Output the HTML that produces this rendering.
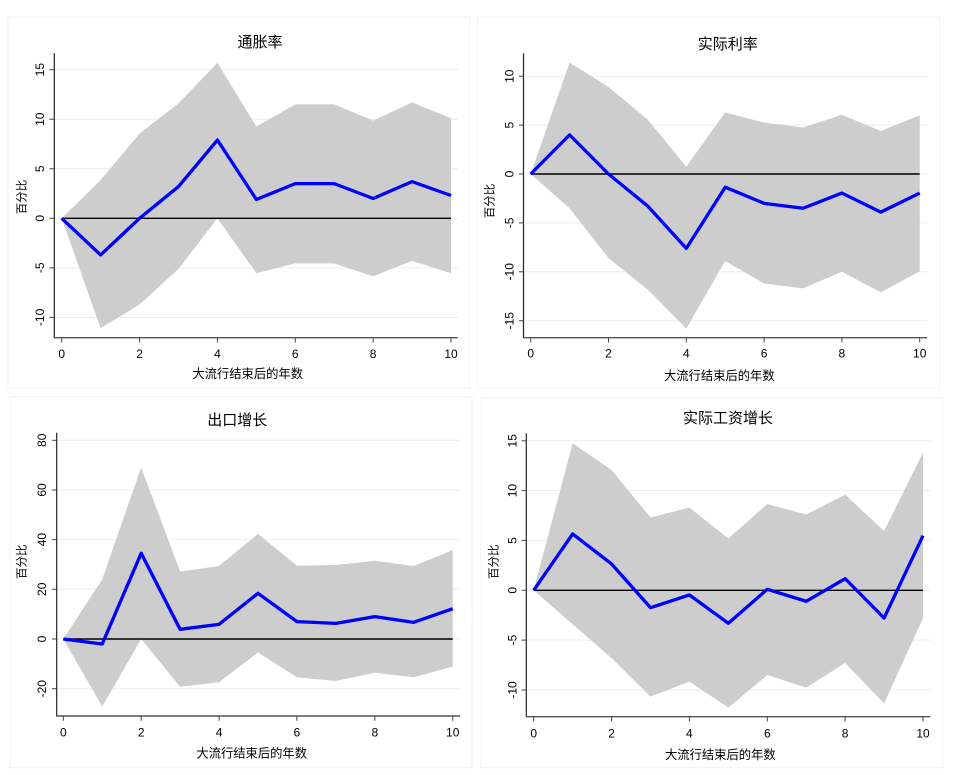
<!DOCTYPE html>
<html>
<head>
<meta charset="utf-8">
<style>
html,body{margin:0;padding:0;background:#fff;}
svg{display:block;}
text{font-family:"Liberation Sans","Noto Sans CJK SC",sans-serif;fill:#000;}
.tk{font-size:12px;}
.ttl{font-size:15px;}
.xt{font-size:12.3px;}
.yt{font-size:11.5px;}
.grid{stroke:#e6eff0;stroke-width:1;}
.shade{fill:#cdcdcd;stroke:none;}
.mean{fill:none;stroke:#0000ff;stroke-width:3.3;stroke-linejoin:round;vector-effect:non-scaling-stroke;}
.zero{stroke:#000;stroke-width:1.4;}
.ax{stroke:#222;stroke-width:1.2;}
.axx{stroke:#555;stroke-width:1.4;}
.tick{stroke:#444;stroke-width:1;}
.frame{fill:#fff;stroke:#f0f3f3;stroke-width:1;}
</style>
</head>
<body>
<svg width="957" height="775" viewBox="0 0 957 775" xmlns="http://www.w3.org/2000/svg">
<rect x="0" y="0" width="957" height="775" fill="#fff"/>

<!-- ============ Panel 1 ============ -->
<rect class="frame" x="8" y="17" width="462" height="371"/>
<g class="grid">
<line x1="54.3" x2="458" y1="69.65" y2="69.65"/>
<line x1="54.3" x2="458" y1="119.2" y2="119.2"/>
<line x1="54.3" x2="458" y1="168.75" y2="168.75"/>
<line x1="54.3" x2="458" y1="218.3" y2="218.3"/>
<line x1="54.3" x2="458" y1="267.85" y2="267.85"/>
<line x1="54.3" x2="458" y1="317.4" y2="317.4"/>
</g>
<g transform="matrix(38.93 0 0 -9.91 61.7 218.3)">
<polygon class="shade" points="0,0 1,3.85 2,8.55 3,11.6 4,15.7 5,9.25 6,11.5 7,11.5 8,9.85 9,11.7 10,10.1 10,-5.55 9,-4.3 8,-5.85 7,-4.55 6,-4.55 5,-5.55 4,0 3,-5.1 2,-8.7 1,-11.1"/>
</g>
<line class="zero" x1="61.7" x2="451" y1="218.3" y2="218.3"/>
<g transform="matrix(38.93 0 0 -9.91 61.7 218.3)">
<polyline class="mean" points="0,0 1,-3.7 2,0 3,3.2 4,7.9 5,1.9 6,3.5 7,3.5 8,2.0 9,3.7 10,2.3"/>
</g>
<line class="ax" x1="54.3" x2="54.3" y1="53" y2="338.3"/>
<line class="axx" x1="54.3" x2="457.7" y1="337.7" y2="337.7"/>
<g class="tick">
<line x1="49.5" x2="54.3" y1="69.65" y2="69.65"/><line x1="49.5" x2="54.3" y1="119.2" y2="119.2"/>
<line x1="49.5" x2="54.3" y1="168.75" y2="168.75"/><line x1="49.5" x2="54.3" y1="218.3" y2="218.3"/>
<line x1="49.5" x2="54.3" y1="267.85" y2="267.85"/><line x1="49.5" x2="54.3" y1="317.4" y2="317.4"/>
<line x1="61.7" x2="61.7" y1="337.7" y2="342.5"/><line x1="139.56" x2="139.56" y1="337.7" y2="342.5"/>
<line x1="217.42" x2="217.42" y1="337.7" y2="342.5"/><line x1="295.28" x2="295.28" y1="337.7" y2="342.5"/>
<line x1="373.14" x2="373.14" y1="337.7" y2="342.5"/><line x1="451" x2="451" y1="337.7" y2="342.5"/>
</g>
<g class="tk" text-anchor="middle">
<text transform="translate(44,69.65) rotate(-90)">15</text>
<text transform="translate(44,119.2) rotate(-90)">10</text>
<text transform="translate(44,168.75) rotate(-90)">5</text>
<text transform="translate(44,218.3) rotate(-90)">0</text>
<text transform="translate(44,267.85) rotate(-90)">-5</text>
<text transform="translate(44,317.4) rotate(-90)">-10</text>
<text x="61.7" y="358">0</text><text x="139.56" y="358">2</text><text x="217.42" y="358">4</text>
<text x="295.28" y="358">6</text><text x="373.14" y="358">8</text><text x="451" y="358">10</text>
</g>
<text class="ttl" x="260" y="42.5" text-anchor="middle" dominant-baseline="central">通胀率</text>
<text class="xt" x="247.7" y="374.2" text-anchor="middle" dominant-baseline="central">大流行结束后的年数</text>
<text class="yt" transform="translate(22.7,197) rotate(-90)" text-anchor="middle" dominant-baseline="central">百分比</text>

<!-- ============ Panel 2 ============ -->
<rect class="frame" x="477.7" y="17" width="462" height="371"/>
<g class="grid">
<line x1="523.5" x2="927" y1="76.2" y2="76.2"/>
<line x1="523.5" x2="927" y1="125.1" y2="125.1"/>
<line x1="523.5" x2="927" y1="174" y2="174"/>
<line x1="523.5" x2="927" y1="222.9" y2="222.9"/>
<line x1="523.5" x2="927" y1="271.8" y2="271.8"/>
<line x1="523.5" x2="927" y1="320.7" y2="320.7"/>
</g>
<g transform="matrix(38.9 0 0 -9.78 530.7 174)">
<polygon class="shade" points="0,0 1,11.4 2,8.9 3,5.6 4,0.75 5,6.3 6,5.25 7,4.75 8,6.05 9,4.4 10,6.0 10,-9.95 9,-12.1 8,-10.0 7,-11.7 6,-11.2 5,-8.9 4,-15.8 3,-11.8 2,-8.6 1,-3.5"/>
</g>
<line class="zero" x1="530.7" x2="919.7" y1="174" y2="174"/>
<g transform="matrix(38.9 0 0 -9.78 530.7 174)">
<polyline class="mean" points="0,0 1,4.0 2,0 3,-3.25 4,-7.6 5,-1.35 6,-3.0 7,-3.5 8,-1.95 9,-3.9 10,-1.95"/>
</g>
<line class="ax" x1="523.5" x2="523.5" y1="53.3" y2="338.3"/>
<line class="axx" x1="523.5" x2="927" y1="337.7" y2="337.7"/>
<g class="tick">
<line x1="519" x2="523.5" y1="76.2" y2="76.2"/><line x1="519" x2="523.5" y1="125.1" y2="125.1"/>
<line x1="519" x2="523.5" y1="174" y2="174"/><line x1="519" x2="523.5" y1="222.9" y2="222.9"/>
<line x1="519" x2="523.5" y1="271.8" y2="271.8"/><line x1="519" x2="523.5" y1="320.7" y2="320.7"/>
<line x1="530.7" x2="530.7" y1="337.7" y2="342.5"/><line x1="608.5" x2="608.5" y1="337.7" y2="342.5"/>
<line x1="686.3" x2="686.3" y1="337.7" y2="342.5"/><line x1="764.1" x2="764.1" y1="337.7" y2="342.5"/>
<line x1="841.9" x2="841.9" y1="337.7" y2="342.5"/><line x1="919.7" x2="919.7" y1="337.7" y2="342.5"/>
</g>
<g class="tk" text-anchor="middle">
<text transform="translate(513.7,76.2) rotate(-90)">10</text>
<text transform="translate(513.7,125.1) rotate(-90)">5</text>
<text transform="translate(513.7,174) rotate(-90)">0</text>
<text transform="translate(513.7,222.9) rotate(-90)">-5</text>
<text transform="translate(513.7,271.8) rotate(-90)">-10</text>
<text transform="translate(513.7,320.7) rotate(-90)">-15</text>
<text x="530.7" y="357.7">0</text><text x="608.5" y="357.7">2</text><text x="686.3" y="357.7">4</text>
<text x="764.1" y="357.7">6</text><text x="841.9" y="357.7">8</text><text x="919.7" y="357.7">10</text>
</g>
<text class="ttl" x="727.7" y="44.7" text-anchor="middle" dominant-baseline="central">实际利率</text>
<text class="xt" x="719.3" y="375.8" text-anchor="middle" dominant-baseline="central">大流行结束后的年数</text>
<text class="yt" transform="translate(490.3,201) rotate(-90)" text-anchor="middle" dominant-baseline="central">百分比</text>

<!-- ============ Panel 3 ============ -->
<rect class="frame" x="10" y="396.7" width="462" height="371"/>
<g class="grid">
<line x1="56.7" x2="460" y1="440.3" y2="440.3"/>
<line x1="56.7" x2="460" y1="490" y2="490"/>
<line x1="56.7" x2="460" y1="539.6" y2="539.6"/>
<line x1="56.7" x2="460" y1="589.3" y2="589.3"/>
<line x1="56.7" x2="460" y1="639" y2="639"/>
<line x1="56.7" x2="460" y1="688.7" y2="688.7"/>
</g>
<g transform="matrix(38.94 0 0 -2.484 63.3 639)">
<polygon class="shade" points="0,0 1,24 2,69.1 3,27.1 4,29.4 5,42.3 6,29.5 7,29.8 8,31.5 9,29.4 10,35.8 10,-11.1 9,-15.4 8,-13.6 7,-16.9 6,-15.4 5,-5.4 4,-17.4 3,-19.2 2,0 1,-27.2"/>
</g>
<line class="zero" x1="63.3" x2="452.7" y1="639" y2="639"/>
<g transform="matrix(38.94 0 0 -2.484 63.3 639)">
<polyline class="mean" points="0,0 1,-2.0 2,34.5 3,3.9 4,5.9 5,18.4 6,7.0 7,6.3 8,9.0 9,6.7 10,12.2"/>
</g>
<line class="ax" x1="56.7" x2="56.7" y1="432.7" y2="716.6"/>
<line class="axx" x1="56.7" x2="460" y1="716" y2="716"/>
<g class="tick">
<line x1="52" x2="56.7" y1="440.3" y2="440.3"/><line x1="52" x2="56.7" y1="490" y2="490"/>
<line x1="52" x2="56.7" y1="539.6" y2="539.6"/><line x1="52" x2="56.7" y1="589.3" y2="589.3"/>
<line x1="52" x2="56.7" y1="639" y2="639"/><line x1="52" x2="56.7" y1="688.7" y2="688.7"/>
<line x1="63.3" x2="63.3" y1="716" y2="720.8"/><line x1="141.2" x2="141.2" y1="716" y2="720.8"/>
<line x1="219.1" x2="219.1" y1="716" y2="720.8"/><line x1="296.9" x2="296.9" y1="716" y2="720.8"/>
<line x1="374.8" x2="374.8" y1="716" y2="720.8"/><line x1="452.7" x2="452.7" y1="716" y2="720.8"/>
</g>
<g class="tk" text-anchor="middle">
<text transform="translate(46,440.3) rotate(-90)">80</text>
<text transform="translate(46,490) rotate(-90)">60</text>
<text transform="translate(46,539.6) rotate(-90)">40</text>
<text transform="translate(46,589.3) rotate(-90)">20</text>
<text transform="translate(46,639) rotate(-90)">0</text>
<text transform="translate(46,688.7) rotate(-90)">-20</text>
<text x="63.3" y="736.7">0</text><text x="141.2" y="736.7">2</text><text x="219.1" y="736.7">4</text>
<text x="296.9" y="736.7">6</text><text x="374.8" y="736.7">8</text><text x="452.7" y="736.7">10</text>
</g>
<text class="ttl" x="237.3" y="420.7" text-anchor="middle" dominant-baseline="central">出口增长</text>
<text class="xt" x="251.7" y="753.5" text-anchor="middle" dominant-baseline="central">大流行结束后的年数</text>
<text class="yt" transform="translate(22.7,561.7) rotate(-90)" text-anchor="middle" dominant-baseline="central">百分比</text>

<!-- ============ Panel 4 ============ -->
<rect class="frame" x="480.7" y="397.7" width="462" height="370"/>
<g class="grid">
<line x1="526.3" x2="930.3" y1="440.8" y2="440.8"/>
<line x1="526.3" x2="930.3" y1="490.6" y2="490.6"/>
<line x1="526.3" x2="930.3" y1="540.5" y2="540.5"/>
<line x1="526.3" x2="930.3" y1="590.3" y2="590.3"/>
<line x1="526.3" x2="930.3" y1="640.1" y2="640.1"/>
<line x1="526.3" x2="930.3" y1="690" y2="690"/>
</g>
<g transform="matrix(38.93 0 0 -9.967 533.7 590.3)">
<polygon class="shade" points="0,0 1,14.75 2,12.07 3,7.3 4,8.3 5,5.2 6,8.66 7,7.6 8,9.6 9,5.95 10,13.8 10,-2.8 9,-11.34 8,-7.3 7,-9.77 6,-8.5 5,-11.77 4,-9.16 3,-10.67 2,-6.8 1,-3.4"/>
</g>
<line class="zero" x1="533.7" x2="923" y1="590.3" y2="590.3"/>
<g transform="matrix(38.93 0 0 -9.967 533.7 590.3)">
<polyline class="mean" points="0,0 1,5.65 2,2.64 3,-1.74 4,-0.47 5,-3.31 6,0.1 7,-1.1 8,1.17 9,-2.78 10,5.48"/>
</g>
<line class="ax" x1="526.3" x2="526.3" y1="433.3" y2="717.3"/>
<line class="axx" x1="526.3" x2="930.3" y1="716.7" y2="716.7"/>
<g class="tick">
<line x1="521.7" x2="526.3" y1="440.8" y2="440.8"/><line x1="521.7" x2="526.3" y1="490.6" y2="490.6"/>
<line x1="521.7" x2="526.3" y1="540.5" y2="540.5"/><line x1="521.7" x2="526.3" y1="590.3" y2="590.3"/>
<line x1="521.7" x2="526.3" y1="640.1" y2="640.1"/><line x1="521.7" x2="526.3" y1="690" y2="690"/>
<line x1="533.7" x2="533.7" y1="716.7" y2="721.5"/><line x1="611.6" x2="611.6" y1="716.7" y2="721.5"/>
<line x1="689.4" x2="689.4" y1="716.7" y2="721.5"/><line x1="767.3" x2="767.3" y1="716.7" y2="721.5"/>
<line x1="845.1" x2="845.1" y1="716.7" y2="721.5"/><line x1="923" x2="923" y1="716.7" y2="721.5"/>
</g>
<g class="tk" text-anchor="middle">
<text transform="translate(516.3,440.8) rotate(-90)">15</text>
<text transform="translate(516.3,490.6) rotate(-90)">10</text>
<text transform="translate(516.3,540.5) rotate(-90)">5</text>
<text transform="translate(516.3,590.3) rotate(-90)">0</text>
<text transform="translate(516.3,640.1) rotate(-90)">-5</text>
<text transform="translate(516.3,690) rotate(-90)">-10</text>
<text x="533.7" y="737.7">0</text><text x="611.6" y="737.7">2</text><text x="689.4" y="737.7">4</text>
<text x="767.3" y="737.7">6</text><text x="845.1" y="737.7">8</text><text x="923" y="737.7">10</text>
</g>
<text class="ttl" x="728" y="418.7" text-anchor="middle" dominant-baseline="central">实际工资增长</text>
<text class="xt" x="720.3" y="754.8" text-anchor="middle" dominant-baseline="central">大流行结束后的年数</text>
<text class="yt" transform="translate(494.3,561.7) rotate(-90)" text-anchor="middle" dominant-baseline="central">百分比</text>
</svg>
</body>
</html>
